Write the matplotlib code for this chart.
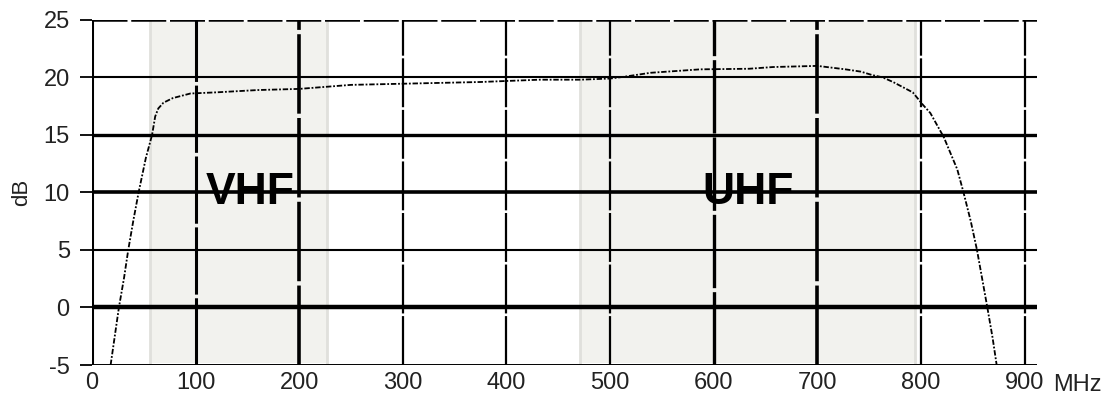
import matplotlib
matplotlib.use('Agg')
import matplotlib.pyplot as plt

plt.rcParams['font.family'] = ['Liberation Sans', 'DejaVu Sans']
plt.rcParams['axes.unicode_minus'] = False

# frequency response
freq = [18, 22, 26, 31, 35, 40, 45, 52, 58, 61, 64, 69, 78, 95, 120, 160, 200,
        250, 300, 375, 432, 471, 500, 513, 539, 587, 634, 657, 700, 727, 742,
        753, 763, 773, 792, 802, 809, 822, 835, 841, 848, 854, 859, 864, 869, 873]
gain = [-5, -2.5, 0, 2.6, 5, 7.6, 10, 13, 15, 16.6, 17.3, 17.8, 18.2, 18.6, 18.7, 18.9, 19.0,
        19.35, 19.45, 19.6, 19.8, 19.8, 19.9, 20.05, 20.4, 20.7, 20.75, 20.9, 21.0, 20.7, 20.5,
        20.2, 20.0, 19.6, 18.7, 17.6, 16.9, 14.8, 12.0, 10.0, 7.5, 5.0, 2.5, 0.0, -2.6, -5]

bands = [(56, 227), (471, 794)]
band_names = ['VHF', 'UHF']
band_label_x = [153, 633]
band_label_y = 10

xticks = [0, 100, 200, 300, 400, 500, 600, 700, 800, 900]
yticks = [-5, 0, 5, 10, 15, 20, 25]


def main():
    fig = plt.figure(figsize=(11.08, 3.99), dpi=100)
    ax = fig.add_axes([0.083, 0.0852, 0.853, 0.865])
    ax.set_xlim(0, 912)
    ax.set_ylim(-5, 25)

    for (a, b) in bands:
        ax.axvspan(a, b, ymin=0.006, ymax=0.994, color='#f2f2ee', lw=0, zorder=0)
        for e in (a, b):
            ax.axvline(e, ymin=0.006, ymax=0.994, color='#e0e0dc', lw=2, zorder=0.5)

    # horizontal grid
    hw = {-5: 1.4, 0: 3.2, 5: 1.5, 10: 2.6, 15: 2.4, 20: 1.5, 25: 1.8}
    for y in yticks:
        if y == 25:
            ax.axhline(y, color='black', lw=hw[y], dashes=(14, 1.5), zorder=1)
        else:
            ax.axhline(y, color='black', lw=hw[y], zorder=1)

    # vertical grid
    vw = {0: 2.2, 100: 2.2, 200: 2.6, 300: 1.6, 400: 1.6, 500: 1.6, 600: 2.4, 700: 2.6, 800: 1.6, 900: 1.6}
    for x in xticks:
        if x == 0:
            ax.axvline(x, color='black', lw=vw[x], zorder=1)
        else:
            ax.axvline(x, color='black', lw=vw[x], dashes=(22, 1.2), zorder=1)

    ax.plot(freq, gain, color='black', lw=1.3, linestyle=(0, (3, 1, 1, 1)), zorder=3)

    for name, x in zip(band_names, band_label_x):
        ax.text(x, band_label_y, name, fontsize=32, fontweight='bold', color='black',
                ha='center', va='center', zorder=4)

    for s in ax.spines.values():
        s.set_visible(False)

    ax.set_xticks(xticks)
    ax.set_yticks(yticks)
    ax.tick_params(axis='x', length=0, pad=5, labelsize=17, labelcolor='#222222')
    ax.tick_params(axis='y', length=9, width=1.3, pad=7, labelsize=17, labelcolor='#222222')

    ax.set_ylabel('dB', fontsize=16, color='#222222')
    ax.yaxis.set_label_coords(-0.063, 0.5)

    fig.text(1053 / 1108, 1 - 385 / 399, 'MHz', fontsize=17, color='#222222',
             ha='left', va='center')

    fig.savefig('out.png', dpi=100)


if __name__ == "__main__":
    main()
